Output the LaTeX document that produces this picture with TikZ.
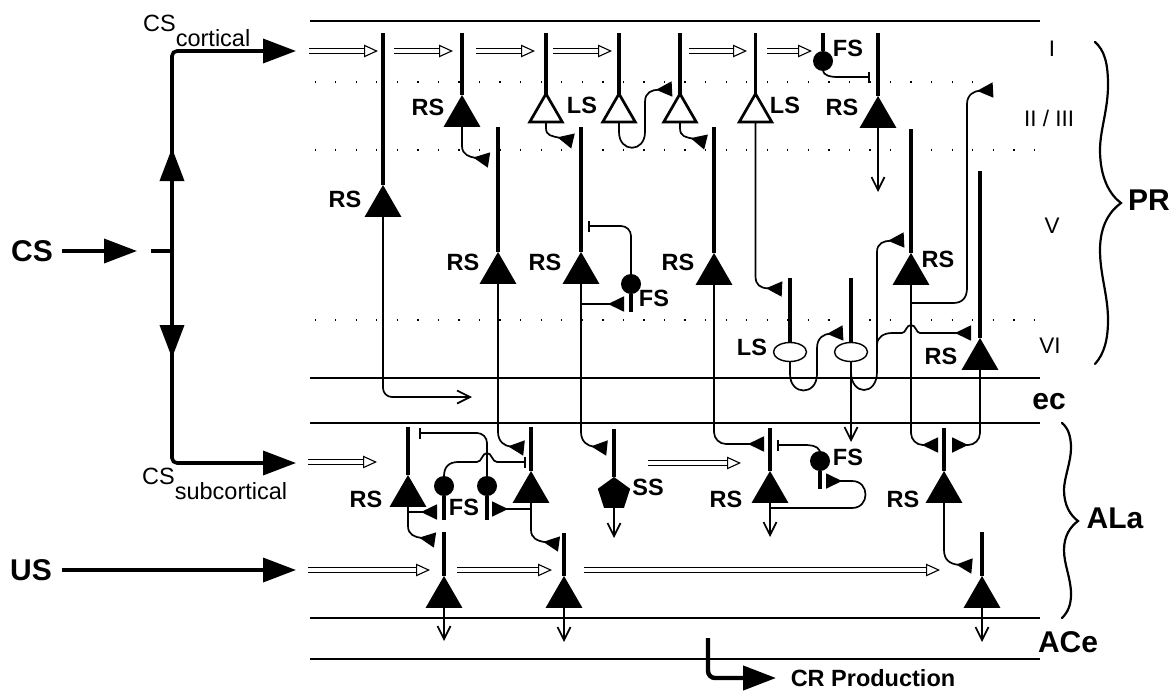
\documentclass[tikz,border=0pt]{standalone}
\usepackage{fontspec}
\setmainfont{Liberation Sans}
\usetikzlibrary{arrows.meta,shapes.geometric}

\begin{document}
\begin{tikzpicture}[
	x=1pt,y=-1pt,
	pyrcell/.style={
		regular polygon,
		regular polygon sides=3,
		minimum size=42.67pt,
		inner sep=0pt,outer sep=0pt,
		fill=black
	},
	opencell/.style={
		regular polygon,
		regular polygon sides=3,
		minimum size=37.6pt,
		inner sep=0pt,outer sep=0pt,
		draw=black,
		fill=white,
		line width=2.7pt
	},
	ovalcell/.style={
		ellipse,
		minimum width=33pt,
		minimum height=19pt,
		inner sep=0pt,outer sep=0pt,
		draw=black,
		fill=white,
		line width=1.4pt
	},
	fscell/.style={
		circle,
		minimum size=20pt,
		inner sep=0pt,outer sep=0pt,
		fill=black
	},
	sscell/.style={
		regular polygon,
		regular polygon sides=5,
		minimum size=34pt,
		inner sep=0pt,outer sep=0pt,
		fill=black
	},
	dendrite/.style={line width=3.5pt},
	axon/.style={line width=1.7pt},
	synapse/.style={
		axon,
		-{Triangle[reversed,length=16pt,width=15pt]}
	},
	inhib/.style={
		axon,
		-{Bar[width=11pt,line width=1.7pt]}
	},
	axonout/.style={
		axon,
		-{Straight Barb[length=13pt,width=13pt,line width=1.7pt]}
	},
	hollow/.style={
		double,
		double distance=3.2pt,
		line width=1.1pt,
		-{Triangle[open,length=14pt,width=12.5pt,line width=1.1pt,fill=white]}
	},
	bigline/.style={
		line width=3.6pt,
		rounded corners=5pt
	},
	bigarrow/.style={
		bigline,
		-{Triangle[length=33pt,width=24pt]}
	},
	layerline/.style={line width=1.2pt},
	dotline/.style={line width=1.3pt,dash pattern=on 1.3pt off 19.25pt},
	brace/.style={line width=2.2pt,line cap=round},
	cellname/.style={font=\fontsize{23.5}{23.5}\selectfont\bfseries,inner sep=0pt},
	regionname/.style={font=\fontsize{30}{30}\selectfont\bfseries,inner sep=0pt},
	layername/.style={font=\fontsize{22.5}{22.5}\selectfont,inner sep=0pt},
	inputname/.style={font=\fontsize{23.5}{23.5}\selectfont,inner sep=0pt,anchor=base west}
	]
	\useasboundingbox (0,0) rectangle (1174,691);
	
	% Layer borders
	\draw[layerline] (310,21) -- (1040,21);
	\draw[layerline] (310,378) -- (1040,378);
	\draw[layerline] (310,423) -- (1040,423);
	\draw[layerline] (310,618) -- (1040,618);
	\draw[layerline] (310,659) -- (1040,659);
	\draw[dotline] (314.5,82) -- (992,82);
	\draw[dotline] (314.5,150) -- (1035,150);
	\draw[dotline] (314.5,320) -- (1035,320);
	
	% Input side
	\coordinate (csstart) at (62,251);
	\coordinate (csend) at (137,251);
	\coordinate (csstub) at (151,251);
	\coordinate (csjoin) at (172,251);
	\coordinate (uphead) at (172,148);
	\coordinate (upstem) at (172,156);
	\coordinate (downhead) at (172,358);
	\coordinate (downstem) at (172,350);
	\coordinate (cortend) at (296,51);
	\coordinate (subend) at (296,463);
	\coordinate (usstart) at (62,570);
	\coordinate (usend) at (296,570);
	\draw[bigarrow] (csstart) -- (csend);
	\draw[bigline] (csstub) -- (csjoin);
	\draw[bigarrow] (csjoin) -- (uphead);
	\draw[bigarrow] (upstem) |- (cortend);
	\draw[bigarrow] (csjoin) -- (downhead);
	\draw[bigarrow] (downstem) |- (subend);
	\draw[bigarrow] (usstart) -- (usend);
	
	\node[regionname] (cslabel) at (32,251) {CS};
	\node[regionname] (uslabel) at (31,570) {US};
	\node[inputname] (cortlabel) at (143,31) {CS\raisebox{-15pt}{cortical}};
	\node[inputname] (sublabel) at (142,484) {CS\raisebox{-15pt}{subcortical}};
	
	% Cells of layers II / III
	\node[pyrcell] (rsa) at (383,206.3) {};
	\node[pyrcell] (rsb) at (462,116.3) {};
	\node[opencell] (lsa) at (546,112.6) {};
	\node[opencell] (lsb) at (619,112.6) {};
	\node[opencell] (lsc) at (680,112.6) {};
	\node[opencell] (lsd) at (755.5,112.6) {};
	\node[fscell] (fsa) at (823,61) {};
	\node[pyrcell] (rsc) at (878,117.3) {};
	
	\coordinate (rsatop) at (383,33);
	\coordinate (rsbtop) at (462,33);
	\coordinate (lsatop) at (546,33);
	\coordinate (lsbtop) at (619,33);
	\coordinate (lsctop) at (680,33);
	\coordinate (lsdtop) at (755.5,33);
	\coordinate (fsatop) at (823,33);
	\coordinate (rsctop) at (878,33);
	\draw[dendrite] (rsa.north) -- (rsatop);
	\draw[dendrite] (rsb.north) -- (rsbtop);
	\draw[dendrite] (lsa.north) -- (lsatop);
	\draw[dendrite] (lsb.north) -- (lsbtop);
	\draw[dendrite] (lsc.north) -- (lsctop);
	\draw[line width=2.7pt] (lsd.north) -- (lsdtop);
	\draw[dendrite] (fsa.north) -- (fsatop);
	\draw[dendrite] (rsc.north) -- (rsctop);
	
	% Cells of layer V
	\node[pyrcell] (rsd) at (498,273.3) {};
	\node[pyrcell] (rse) at (581,273.3) {};
	\node[fscell] (fsb) at (631,284) {};
	\node[pyrcell] (rsf) at (714,274.3) {};
	\node[pyrcell] (rsg) at (911,274.3) {};
	
	\coordinate (rsdtop) at (498,127);
	\coordinate (rsetop) at (581,127);
	\coordinate (fsbend) at (631,312);
	\coordinate (rsftop) at (714,127);
	\coordinate (rsgtop) at (911,129);
	\draw[dendrite] (rsd.north) -- (rsdtop);
	\draw[dendrite] (rse.north) -- (rsetop);
	\draw[dendrite] (fsb.south) -- (fsbend);
	\draw[dendrite] (rsf.north) -- (rsftop);
	\draw[dendrite] (rsg.north) -- (rsgtop);
	
	% Cells of layer VI
	\node[ovalcell] (lse) at (790,352) {};
	\node[ovalcell] (lsf) at (851,352) {};
	\node[pyrcell] (rsh) at (980,359.3) {};
	
	\coordinate (lsetop) at (790,278);
	\coordinate (lsftop) at (851,278);
	\coordinate (rshtop) at (980,171);
	\draw[dendrite] (lse.north) -- (lsetop);
	\draw[dendrite] (lsf.north) -- (lsftop);
	\draw[dendrite] (rsh.north) -- (rshtop);
	
	% Cells of ALa
	\node[pyrcell] (rsi) at (408,496.3) {};
	\node[fscell] (fsc) at (444,486) {};
	\node[fscell] (fsd) at (487,486) {};
	\node[pyrcell] (rsj) at (531,492.3) {};
	\node[sscell] (ssa) at (614,494) {};
	\node[pyrcell] (rsk) at (770,492.3) {};
	\node[fscell] (fse) at (820,461) {};
	\node[pyrcell] (rsl) at (944,492.3) {};
	\node[pyrcell] (rsm) at (444,597.3) {};
	\node[pyrcell] (rsn) at (564,597.3) {};
	\node[pyrcell] (rso) at (982,597.3) {};
	
	\coordinate (rsitop) at (408,427);
	\coordinate (fscend) at (444,520);
	\coordinate (fsdend) at (487,520);
	\coordinate (rsjtop) at (531,427);
	\coordinate (ssatop) at (614,429);
	\coordinate (rsktop) at (770,428);
	\coordinate (fseend) at (820,489);
	\coordinate (rsltop) at (944,428);
	\coordinate (rsmtop) at (444,532);
	\coordinate (rsntop) at (564,533);
	\coordinate (rsotop) at (982,532);
	\draw[dendrite] (rsi.north) -- (rsitop);
	\draw[dendrite] (fsc.south) -- (fscend);
	\draw[dendrite] (fsd.south) -- (fsdend);
	\draw[dendrite] (rsj.north) -- (rsjtop);
	\draw[dendrite] (ssa.north) -- (ssatop);
	\draw[dendrite] (rsk.north) -- (rsktop);
	\draw[dendrite] (fse.south) -- (fseend);
	\draw[dendrite] (rsl.north) -- (rsltop);
	\draw[dendrite] (rsm.north) -- (rsmtop);
	\draw[dendrite] (rsn.north) -- (rsntop);
	\draw[dendrite] (rso.north) -- (rsotop);
	
	% Hollow input arrows
	\coordinate (hola) at (309,51); \coordinate (holb) at (378,51);
	\coordinate (holc) at (394,51); \coordinate (hold) at (453,51);
	\coordinate (hole) at (476,51); \coordinate (holf) at (535,51);
	\coordinate (holg) at (553,51); \coordinate (holh) at (612,51);
	\coordinate (holi) at (689,51); \coordinate (holj) at (747,51);
	\coordinate (holk) at (767,51); \coordinate (holl) at (812,51);
	\coordinate (holm) at (308,462); \coordinate (holn) at (377,462);
	\coordinate (holo) at (648,463); \coordinate (holp) at (741,463);
	\coordinate (holq) at (308,570); \coordinate (holr) at (430,570);
	\coordinate (hols) at (457,570); \coordinate (holt) at (552,570);
	\coordinate (holu) at (584,570); \coordinate (holv) at (940,570);
	\draw[hollow] (hola) -- (holb);
	\draw[hollow] (holc) -- (hold);
	\draw[hollow] (hole) -- (holf);
	\draw[hollow] (holg) -- (holh);
	\draw[hollow] (holi) -- (holj);
	\draw[hollow] (holk) -- (holl);
	\draw[hollow] (holm) -- (holn);
	\draw[hollow] (holo) -- (holp);
	\draw[hollow] (holq) -- (holr);
	\draw[hollow] (hols) -- (holt);
	\draw[hollow] (holu) -- (holv);
	
	% Output arrows
	\coordinate (rsaend) at (472,397);
	\coordinate (rscend) at (878,192);
	\coordinate (lsfend) at (851,442);
	\coordinate (ssaend) at (614,538);
	\coordinate (rskend) at (770,537);
	\coordinate (rsmend) at (444,641);
	\coordinate (rsnend) at (564,642);
	\coordinate (rsoend) at (982,642);
	\draw[axonout,rounded corners=9pt] (rsa.south) |- (rsaend);
	\draw[axonout] (rsc.south) -- (rscend);
	\draw[axonout] (lsf.south) -- (lsfend);
	\draw[axonout] (ssa.south) -- (ssaend);
	\draw[axonout] (rsk.south) -- (rskend);
	\draw[axonout] (rsm.south) -- (rsmend);
	\draw[axonout] (rsn.south) -- (rsnend);
	\draw[axonout] (rso.south) -- (rsoend);
	
	% Synapses in the upper layers
	\coordinate (syna) at (489,160);
	\coordinate (synb) at (573,141);
	\coordinate (sync) at (672,89);
	\coordinate (synd) at (706,142);
	\coordinate (syne) at (782,289);
	\draw[synapse] (rsb.south) -- (462,146) .. controls (462,155) and (470,157) .. (syna);
	\draw[synapse] (lsa.south) -- (546,128) .. controls (546,136) and (552,136) .. (synb);
	\draw[axon] (lsb.south) -- (619,132) .. controls (619,153) and (645,153) .. (645,132);
	\draw[synapse] (645,132) -- (645,102) .. controls (645,92) and (652,90) .. (sync);
	\draw[synapse] (lsc.south) -- (680,128) .. controls (680,137) and (686,137) .. (synd);
	\draw[synapse] (lsd.south) -- (755.5,276) .. controls (755.5,285) and (760,288) .. (syne);
	
	% Synapses from layer V and VI to the amygdala
	\coordinate (synf) at (524,448);
	\coordinate (syng) at (607,448);
	\coordinate (synh) at (764,444);
	\coordinate (syni) at (938,445);
	\coordinate (synj) at (952,445);
	\draw[synapse] (rsd.south) -- (498,432) .. controls (498,442) and (505,446) .. (synf);
	\draw[synapse] (rse.south) -- (581,432) .. controls (581,442) and (588,446) .. (syng);
	\draw[synapse,rounded corners=12pt] (rsf.south) |- (synh);
	\draw[synapse,rounded corners=12pt] (rsg.south) |- (syni);
	\draw[synapse,rounded corners=12pt] (rsh.south) |- (synj);
	
	% Branches in layer V
	\coordinate (brsynA) at (581,304);
	\coordinate (synk) at (624,304);
	\coordinate (inhiba) at (870,77);
	\coordinate (inhibb) at (588,226);
	\coordinate (brsynB) at (911,303);
	\coordinate (synl) at (993,90);
	\draw[synapse] (brsynA) -- (synk);
	\draw[inhib] (fsa.south) .. controls +(1,4) and +(-9,0) .. (838,77) -- (inhiba);
	\draw[inhib,rounded corners=10pt] (fsb.north) |- (inhibb);
	\draw[synapse] (brsynB) -- (953,303) .. controls (962,303) and (967,298) .. (967,288) -- (967,104) .. controls (967,94) and (975,91) .. (synl);
	
	% Branches in layer VI
	\coordinate (synm) at (843,333);
	\coordinate (brsynC) at (851,372);
	\coordinate (brsynD) at (877,345);
	\coordinate (synn) at (904,240);
	\coordinate (syno) at (971,333);
	\draw[synapse] (lse.south) -- (790,374) .. controls (790,396) and (817,396) .. (817,374) -- (817,348) .. controls (817,337) and (825,334) .. (synm);
	\draw[axon] (brsynC) .. controls (851,396) and (877,396) .. (877,372) -- (brsynD);
	\draw[synapse] (brsynD) -- (877,252) .. controls (877,243) and (884,241) .. (synn);
	\draw[synapse] (brsynD) .. controls (877,337) and (884,333) .. (892,333) -- (902,333) .. controls (906,333) and (906,325) .. (911,325) .. controls (916,325) and (916,333) .. (920,333) -- (syno);
	
	% Connections inside ALa
	\coordinate (brsynE) at (408,512);
	\coordinate (synp) at (437,512);
	\coordinate (synq) at (435,540);
	\coordinate (brsynF) at (531,509);
	\coordinate (synr) at (492,509);
	\coordinate (syns) at (559,544);
	\coordinate (inhibc) at (526,462);
	\coordinate (inhibd) at (419,433);
	\draw[synapse] (brsynE) -- (synp);
	\draw[synapse] (rsi.south) -- (408,526) .. controls (408,535) and (415,537) .. (synq);
	\draw[synapse] (brsynF) -- (synr);
	\draw[synapse] (rsj.south) -- (531,530) .. controls (531,538) and (537,541) .. (syns);
	\draw[inhib] (fsc.north) .. controls (444,467) and (449,462) .. (458,462) -- (477,462) .. controls (482,462) and (482,453) .. (487,453) .. controls (492,453) and (492,462) .. (497,462) -- (inhibc);
	\draw[inhib,rounded corners=10pt] (fsd.north) |- (inhibd);
	
	\coordinate (syntt) at (972,566);
	\draw[synapse] (rsl.south) -- (944,550) .. controls (944,560) and (950,564) .. (syntt);
	
	\coordinate (brsynG) at (770,508);
	\coordinate (synu) at (826,481);
	\coordinate (inhibe) at (777,445);
	\draw[synapse] (brsynG) -- (852,508) .. controls (870,508) and (870,481) .. (852,481) -- (synu);
	\draw[inhib] (fse.north) .. controls +(-3,-6) and +(8,0) .. (802,445) -- (inhibe);
	
	% CR output
	\coordinate (crstart) at (708,638);
	\coordinate (crend) at (776,678);
	\draw[bigarrow,line width=4.4pt,rounded corners=7pt] (crstart) |- (crend);
	\node[cellname] (crlabel) at (873,678) {CR Production};
	
	% Cell names
	\node[cellname] (rsaname) at (345,199) {RS};
	\node[cellname] (rsbname) at (428,107) {RS};
	\node[cellname] (lsaname) at (582,105) {LS};
	\node[cellname] (lsdname) at (785,105) {LS};
	\node[cellname] (fsaname) at (848,48) {FS};
	\node[cellname] (rscname) at (842,107) {RS};
	\node[cellname] (rsdname) at (463,262) {RS};
	\node[cellname] (rsename) at (545,262) {RS};
	\node[cellname] (fsbname) at (654,298) {FS};
	\node[cellname] (rsfname) at (678,262) {RS};
	\node[cellname] (rsgname) at (938,259) {RS};
	\node[cellname] (lsename) at (752,347) {LS};
	\node[cellname] (rshname) at (941,356) {RS};
	\node[cellname] (rsiname) at (366,499) {RS};
	\node[cellname] (fscname) at (464,507) {FS};
	\node[cellname] (ssaname) at (648,487) {SS};
	\node[cellname] (rskname) at (726,499) {RS};
	\node[cellname] (fsename) at (848,457) {FS};
	\node[cellname] (rslname) at (903,499) {RS};
	
	% Layers and regions on the right
	\node[layername] (layeri) at (1052,49) {I};
	\node[layername] (layerii) at (1049,118) {II / III};
	\node[layername] (layerv) at (1052,226) {V};
	\node[layername] (layervi) at (1050,346) {VI};
	\node[regionname] (ecname) at (1049,402) {ec};
	\node[regionname] (prname) at (1149,200) {PR};
	\node[regionname] (alaname) at (1115,518) {ALa};
	\node[regionname] (acename) at (1068,642) {ACe};
	
	\draw[brace] (1095,42) .. controls (1104,50) and (1108,62) .. (1108,85) .. controls (1108,110) and (1100,130) .. (1100,150) .. controls (1100,178) and (1110,195) .. (1121,203) .. controls (1110,211) and (1100,225) .. (1100,250) .. controls (1100,275) and (1108,295) .. (1108,320) .. controls (1108,340) and (1104,354) .. (1095,364);
	\draw[brace] (1062,423) .. controls (1068,428) and (1071,436) .. (1071,448) .. controls (1071,462) and (1064,478) .. (1064,490) .. controls (1064,505) and (1070,515) .. (1078,521) .. controls (1070,527) and (1064,536) .. (1064,550) .. controls (1064,565) and (1071,578) .. (1071,594) .. controls (1071,605) and (1068,612) .. (1062,618);
	
\end{tikzpicture}
\end{document}
